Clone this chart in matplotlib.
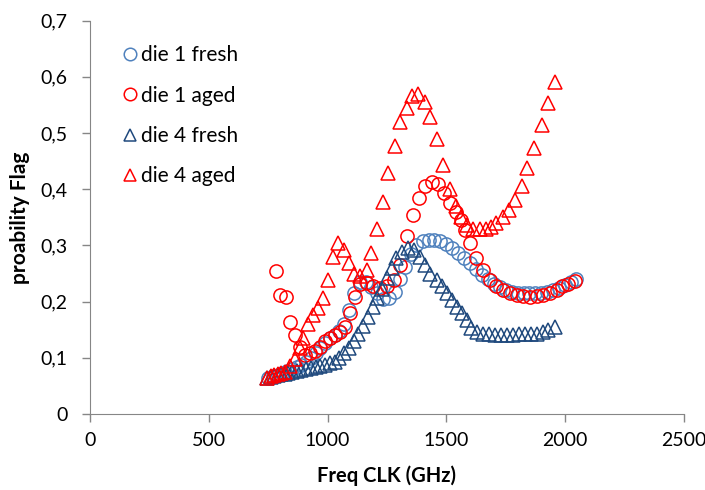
import matplotlib
matplotlib.use("Agg")
import matplotlib.pyplot as plt
from matplotlib.ticker import FuncFormatter

plt.rcParams["font.family"] = ["Lato", "DejaVu Sans"]

# die 1 fresh (blue circles)
d1f_x = [750, 770, 790, 810, 830, 850, 870, 890, 910, 930, 950, 970, 990, 1010,
         1030, 1050, 1070, 1090, 1110, 1135, 1160, 1185, 1210, 1235, 1260, 1285,
         1305, 1325, 1350, 1374, 1400, 1425, 1450, 1475, 1500, 1525, 1550, 1575,
         1600, 1625, 1650, 1675, 1700, 1725, 1750, 1775, 1800, 1825, 1850, 1875,
         1900, 1925, 1950, 1975, 2000, 2025, 2045]
d1f_y = [0.065, 0.068, 0.070, 0.073, 0.076, 0.080, 0.083, 0.087, 0.092, 0.100,
         0.108, 0.118, 0.127, 0.135, 0.140, 0.148, 0.160, 0.185, 0.215, 0.235,
         0.235, 0.226, 0.215, 0.205, 0.207, 0.218, 0.240, 0.262, 0.285, 0.300,
         0.307, 0.310, 0.310, 0.307, 0.302, 0.295, 0.287, 0.278, 0.268, 0.258,
         0.248, 0.240, 0.232, 0.226, 0.221, 0.218, 0.216, 0.215, 0.215, 0.215,
         0.216, 0.218, 0.221, 0.225, 0.230, 0.235, 0.240]

# die 1 aged (red circles)
d1a_x = [781, 800, 823, 842, 863, 884, 905, 926, 947, 968, 989, 1010, 1031, 1052,
         1073, 1094, 1115, 1136, 1164, 1192, 1221, 1250, 1280, 1305, 1333, 1358,
         1384, 1410, 1438, 1466, 1490, 1515, 1540, 1560, 1578, 1599, 1627, 1655,
         1683, 1711, 1739, 1768, 1796, 1823, 1852, 1880, 1908, 1936, 1964, 1989,
         2013, 2041]
d1a_y = [0.255, 0.212, 0.208, 0.164, 0.140, 0.120, 0.105, 0.108, 0.113, 0.120,
         0.130, 0.136, 0.141, 0.146, 0.155, 0.180, 0.209, 0.232, 0.233, 0.228,
         0.225, 0.227, 0.238, 0.265, 0.316, 0.354, 0.384, 0.405, 0.413, 0.410,
         0.394, 0.376, 0.360, 0.345, 0.327, 0.304, 0.277, 0.256, 0.238, 0.227,
         0.220, 0.215, 0.212, 0.210, 0.209, 0.210, 0.212, 0.216, 0.221, 0.227,
         0.231, 0.236]

# die 4 fresh (dark blue triangles)
d4f_x = [745, 760, 775, 790, 805, 820, 835, 850, 870, 890, 910, 930, 950, 970,
         990, 1010, 1030, 1050, 1070, 1090, 1110, 1130, 1150, 1170, 1190, 1210,
         1230, 1250, 1270, 1290, 1315, 1340, 1362, 1389, 1410, 1431, 1459, 1480,
         1501, 1522, 1543, 1564, 1585, 1606, 1630, 1655, 1680, 1705, 1730, 1755,
         1780, 1805, 1830, 1855, 1880, 1905, 1930, 1957]
d4f_y = [0.065, 0.066, 0.068, 0.070, 0.071, 0.072, 0.073, 0.074, 0.076, 0.078,
         0.080, 0.082, 0.084, 0.086, 0.088, 0.090, 0.093, 0.100, 0.108, 0.118,
         0.130, 0.143, 0.157, 0.173, 0.190, 0.207, 0.223, 0.242, 0.260, 0.277,
         0.288, 0.295, 0.292, 0.280, 0.265, 0.250, 0.238, 0.227, 0.215, 0.203,
         0.191, 0.179, 0.167, 0.153, 0.146, 0.143, 0.142, 0.141, 0.141, 0.141,
         0.141, 0.142, 0.142, 0.142, 0.143, 0.146, 0.150, 0.155]

# die 4 aged (red triangles)
d4a_x = [745, 760, 775, 790, 805, 820, 840, 863, 884, 898, 916, 940, 961, 982,
         1000, 1024, 1045, 1070, 1090, 1110, 1138, 1164, 1185, 1210, 1232, 1256,
         1284, 1305, 1333, 1354, 1382, 1410, 1431, 1459, 1487, 1515, 1540, 1562,
         1585, 1613, 1640, 1665, 1690, 1711, 1739, 1762, 1789, 1817, 1840, 1869,
         1901, 1929, 1957]
d4a_y = [0.065, 0.068, 0.070, 0.072, 0.073, 0.075, 0.085, 0.098, 0.117, 0.135,
         0.161, 0.176, 0.188, 0.206, 0.238, 0.280, 0.304, 0.292, 0.268, 0.250,
         0.245, 0.256, 0.286, 0.330, 0.378, 0.428, 0.476, 0.520, 0.544, 0.565,
         0.570, 0.556, 0.529, 0.490, 0.443, 0.400, 0.370, 0.350, 0.336, 0.330,
         0.330, 0.330, 0.333, 0.339, 0.351, 0.363, 0.381, 0.405, 0.437, 0.473,
         0.514, 0.553, 0.591]

blue_light = "#4F81BD"
blue_dark = "#1F497D"
red = "#FF0000"

fig = plt.figure(figsize=(7.05, 4.9), dpi=100)
ax = fig.add_axes([0.1277, 0.155, 0.8423, 0.803])

ms = 9.5
mew = 1.1
ax.plot(d1f_x, d1f_y, "o", ms=ms, mfc="none", mec=blue_light, mew=mew, label="die 1 fresh")
ax.plot(d1a_x, d1a_y, "o", ms=ms, mfc="none", mec=red, mew=mew, label="die 1 aged")
ax.plot(d4f_x, d4f_y, "^", ms=ms, mfc="none", mec=blue_dark, mew=mew, label="die 4 fresh")
ax.plot(d4a_x, d4a_y, "^", ms=ms, mfc="none", mec=red, mew=mew, label="die 4 aged")

ax.set_xlim(0, 2500)
ax.set_ylim(0, 0.7)
ax.set_xticks([0, 500, 1000, 1500, 2000, 2500])
ax.set_yticks([0, 0.1, 0.2, 0.3, 0.4, 0.5, 0.6, 0.7])
ax.yaxis.set_major_formatter(FuncFormatter(lambda v, p: "0" if v == 0 else f"{v:.1f}".replace(".", ",")))

for s in ["top", "right"]:
    ax.spines[s].set_visible(False)
for s in ["left", "bottom"]:
    ax.spines[s].set_color("#868686")
ax.tick_params(colors="#868686", labelcolor="black", labelsize=14, length=6, width=1)
ax.tick_params(axis="y", pad=10)
ax.tick_params(axis="x", pad=7)

ax.set_xlabel("Freq CLK (GHz)", fontsize=14.5, fontweight="bold", labelpad=12)
ax.set_ylabel("proability Flag", fontsize=15, fontweight="bold", labelpad=8)

leg = ax.legend(loc="upper left", bbox_to_anchor=(0.022, 0.985), frameon=False,
                fontsize=15, labelspacing=0.98, handletextpad=0.1,
                handlelength=0.8, markerscale=0.95)

fig.savefig("out.png", dpi=100)
